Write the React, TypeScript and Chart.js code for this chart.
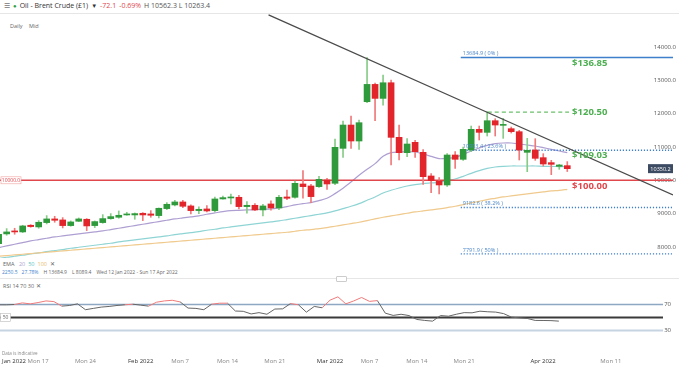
import React, { useEffect, useRef } from 'react';
import { Chart, registerables } from 'chart.js';
Chart.register(...registerables);

// ---------- DATA ----------
const OPEN = [8100, 8390, 8470, 8450, 8650, 8600, 8730, 8840, 8810, 8640, 8770, 8830, 8640, 8730, 8850, 8890, 8960, 8960, 9010, 8990,
  8940, 9150, 9260, 9350, 9230, 9090, 9140, 9090, 9440, 9470, 9490, 9210, 9250, 9110, 9290, 9170, 9500, 9490, 9890, 9830,
  9810, 10010, 9910, 10960, 11660, 11180, 12360, 12880, 12460, 12930, 11290, 10830, 11140, 10840, 10130, 9980, 9860, 10760, 10630, 10910,
  11530, 11440, 11790, 11650, 11550, 11460, 10840, 10910, 10680, 10530, 10420, 10440];
const HIGH = [8420, 8550, 8560, 8650, 8670, 8790, 8940, 8920, 8880, 8780, 8870, 8850, 8780, 8970, 9000, 9080, 9040, 9020, 9030, 9090,
  9170, 9330, 9400, 9400, 9260, 9200, 9240, 9500, 9530, 9590, 9550, 9360, 9300, 9280, 9380, 9550, 9710, 9980, 10290, 9880,
  10120, 10060, 11240, 11780, 11930, 11810, 13685, 12920, 13160, 13010, 11660, 11250, 11200, 10920, 10200, 10080, 10800, 10860, 11000, 11630,
  11630, 12060, 11850, 11860, 11600, 11500, 11260, 11250, 10800, 10600, 10480, 10562];
const LOW = [8050, 8350, 8380, 8430, 8590, 8560, 8690, 8740, 8570, 8620, 8760, 8490, 8580, 8710, 8830, 8860, 8950, 8830, 8790, 8890,
  8870, 9120, 9230, 9180, 8990, 9000, 9050, 9050, 9430, 9290, 9140, 9010, 9090, 8930, 9100, 9120, 9420, 9460, 9460, 9330,
  9790, 9730, 9870, 10690, 10960, 10930, 12330, 11790, 12260, 10460, 10610, 10710, 10690, 9880, 9630, 9590, 9820, 10360, 10600, 10860,
  11210, 11330, 11330, 11260, 11420, 10610, 10260, 10600, 10430, 10170, 10330, 10263];
const CLOSE = [8380, 8450, 8450, 8630, 8610, 8740, 8840, 8800, 8640, 8750, 8840, 8630, 8760, 8850, 8910, 8950, 8990, 9000, 8960, 8950,
  9160, 9280, 9350, 9220, 9090, 9130, 9080, 9440, 9480, 9500, 9210, 9250, 9110, 9230, 9170, 9490, 9460, 9910, 9810, 9510,
  10030, 9890, 10990, 11660, 11180, 11730, 12880, 12460, 12930, 11290, 10830, 11090, 10860, 10110, 9990, 9860, 10760, 10630, 10930, 11530,
  11440, 11790, 11660, 11680, 11460, 10910, 10900, 10660, 10490, 10480, 10460, 10350];

const EMA20 = [7980, 8030, 8080, 8130, 8180, 8220, 8260, 8300, 8330, 8360, 8390, 8420, 8450, 8480, 8520, 8560, 8600, 8640, 8680, 8720,
  8760, 8800, 8840, 8870, 8900, 8930, 8980, 9020, 9060, 9090, 9100, 9110, 9120, 9130, 9140, 9170, 9210, 9260, 9300, 9330,
  9390, 9460, 9600, 9760, 9950, 10150, 10330, 10500, 10720, 10830, 10850, 10860, 10850, 10790, 10720, 10650, 10660, 10690, 10780, 10880,
  10970, 11050, 11100, 11120, 11120, 11090, 11060, 11030, 10980, 10930, 10880, 10830];
const EMA50 = [7650, 7690, 7720, 7750, 7790, 7820, 7860, 7890, 7920, 7960, 7990, 8020, 8050, 8080, 8110, 8150, 8180, 8210, 8240, 8270,
  8300, 8330, 8370, 8400, 8430, 8460, 8500, 8530, 8570, 8600, 8630, 8660, 8690, 8720, 8750, 8780, 8820, 8860, 8900, 8940,
  8980, 9020, 9080, 9150, 9220, 9300, 9400, 9500, 9620, 9700, 9770, 9830, 9870, 9900, 9920, 9940, 9990, 10040, 10120, 10210,
  10290, 10360, 10400, 10420, 10430, 10430, 10430, 10430, 10420, 10420, 10410, 10410];
const EMA100 = [7720, 7740, 7760, 7780, 7800, 7820, 7840, 7860, 7880, 7900, 7920, 7940, 7960, 7980, 8000, 8020, 8040, 8060, 8080, 8100,
  8120, 8140, 8160, 8180, 8200, 8220, 8240, 8260, 8280, 8300, 8320, 8340, 8360, 8380, 8400, 8420, 8440, 8470, 8500, 8520,
  8550, 8580, 8620, 8660, 8700, 8740, 8790, 8840, 8890, 8930, 8970, 9010, 9050, 9080, 9110, 9140, 9180, 9220, 9270, 9320,
  9370, 9420, 9460, 9500, 9530, 9560, 9590, 9620, 9650, 9680, 9700, 9730];
const RSI14 = [69.5, 69.5, 70, 72.5, 71, 73, 75.5, 74.5, 67.5, 68.5, 71, 62, 64, 66, 67, 68.5, 69.5, 70.5, 69, 67.5,
  73.5, 75.5, 76.5, 74, 64.5, 64, 62, 70.5, 72, 72, 60, 59.5, 55.5, 57.5, 55, 63, 63.3, 71.5, 69.5, 58.2,
  67, 65, 76.7, 81.8, 71, 75.5, 80.8, 74.8, 76, 56.7, 53.2, 55, 53, 47, 45.5, 44.4, 53, 52, 55, 57.5,
  57.2, 59.7, 58.8, 58.3, 56, 50.5, 49.5, 48.5, 45.5, 45.4, 45.2, 44.4];

const Y_TICKS = [8000, 9000, 10000, 11000, 12000, 13000, 14000];
const RSI_TICKS = [70, 30];
const RSI_LEVELS = [70, 50, 30];
const X_TICK_POS = [1.95, 5, 11, 18, 23, 29, 35, 42, 47, 53, 59, 69, 77.6];
const X_TICK_LABELS = ['Jan 2022', 'Mon 17', 'Mon 24', 'Feb 2022', 'Mon 7', 'Mon 14', 'Mon 21', 'Mar 2022', 'Mon 7', 'Mon 14', 'Mon 21', 'Apr 2022', 'Mon 11'];
const FIB_LEVELS = [13684.9, 10903.4, 9182.6, 7791.9];
const FIB_LABELS = ['13684.9 ( 0% )', '10903.4 ( 23.6% )', '9182.6 ( 38.2% )', '7791.9 ( 50% )'];
const TAG_TEXT = ['$136.85', '$120.50', '$109.03', '$100.00'];
const TAG_LEVEL = [13684.9, 12050, 10903.4, 10000];
const SUPPORT = 10000;
const RESISTANCE = 12050;
const TREND_X = [33.7, 84.2];
const TREND_Y = [14965, 9559];
const LAST_PRICE = 10350.2;

// ---------- STYLE ----------
const X_MIN = 0.17, X_MAX = 84.2;
const FIB_START = 57.7;
const RES_START = 61.1, RES_END = 71.3;
const TAG_X = 71.6;
const TAG_OFFSET = [6, 0, 5, 6];
const GREEN = '#2f9a3c', RED = '#e2252b';
const GREEN_WICK = '#86cc86', RED_WICK = '#f07a7a';
const FONT = '"Open Sans", "Noto Sans", sans-serif';

const zeroPad = (s: any) => { s.paddingTop = 0; s.paddingBottom = 0; s.paddingLeft = 0; s.paddingRight = 0; };

export default function App() {
  const mainRef = useRef<HTMLCanvasElement>(null);
  const rsiRef = useRef<HTMLCanvasElement>(null);

  useEffect(() => {
    const idx = OPEN.map((_, i) => i);
    const up = idx.map(i => CLOSE[i] >= OPEN[i]);
    const hline = (a: number, b: number, v: number) => [{ x: a, y: v }, { x: b, y: v }];
    const lineDs = (data: any[], color: string, width: number, dash: number[] = [], order = 5) => ({
      type: 'line', data, borderColor: color, borderWidth: width, borderDash: dash, pointRadius: 0, tension: 0.3, order, fill: false,
    });

    const overlay = {
      id: 'overlay',
      afterDatasetsDraw(chart: any) {
        const { ctx, scales: { x, y }, chartArea } = chart;
        ctx.save();
        ctx.font = `5.5px ${FONT}`;
        ctx.fillStyle = '#4a86c8';
        ctx.textAlign = 'left';
        ctx.textBaseline = 'bottom';
        FIB_LEVELS.forEach((lv, k) => ctx.fillText(FIB_LABELS[k], x.getPixelForValue(FIB_START) + 2, y.getPixelForValue(lv) - 1));
        ctx.font = `bold 9.5px ${FONT}`;
        ctx.textBaseline = 'middle';
        TAG_TEXT.forEach((t, k) => {
          ctx.fillStyle = k === 3 ? '#e0474c' : '#4caf50';
          ctx.fillText(t, x.getPixelForValue(TAG_X), y.getPixelForValue(TAG_LEVEL[k]) + TAG_OFFSET[k]);
        });
        // support label box on the left
        const sy = y.getPixelForValue(SUPPORT);
        ctx.fillStyle = '#fff';
        ctx.fillRect(chartArea.left + 1, sy - 3.5, 20, 7);
        ctx.strokeStyle = '#f0a0a0';
        ctx.lineWidth = 0.6;
        ctx.strokeRect(chartArea.left + 1, sy - 3.5, 20, 7);
        ctx.fillStyle = '#e0474c';
        ctx.font = `5px ${FONT}`;
        ctx.textAlign = 'center';
        ctx.fillText(SUPPORT.toFixed(1), chartArea.left + 11, sy);
        // last price box on the right
        const py = y.getPixelForValue(LAST_PRICE);
        ctx.fillStyle = '#3c4a62';
        ctx.fillRect(chartArea.right - 25, py - 4.5, 25, 9);
        ctx.fillStyle = '#fff';
        ctx.font = `5.5px ${FONT}`;
        ctx.fillText(LAST_PRICE.toFixed(1), chartArea.right - 12.5, py + 0.3);
        ctx.restore();
      },
    };

    const main = new Chart(mainRef.current!, {
      type: 'bar',
      data: {
        datasets: [
          lineDs(EMA100.map((v, i) => ({ x: i, y: v })), '#f0c98c', 1.2, [], 9),
          lineDs(EMA50.map((v, i) => ({ x: i, y: v })), '#8fd4d4', 1.2, [], 9),
          lineDs(EMA20.map((v, i) => ({ x: i, y: v })), '#ae9fd2', 1.2, [], 9),
          lineDs(hline(FIB_START, X_MAX, FIB_LEVELS[0]), '#3f7fcc', 1.5, [], 8),
          ...FIB_LEVELS.slice(1).map(lv => lineDs(hline(FIB_START, X_MAX, lv), '#3f7fcc', 1.4, [1.2, 1.8], 8)),
          lineDs(hline(X_MIN, X_MAX, SUPPORT), '#e0474c', 1.6, [], 8),
          lineDs(hline(RES_START, RES_END, RESISTANCE), '#6cc06c', 1.2, [4, 3], 8),
          lineDs(TREND_X.map((xv, k) => ({ x: xv, y: TREND_Y[k] })), '#4a4a4a', 1.3, [], 0),
          {
            type: 'bar', data: idx.map(i => ({ x: i, y: [LOW[i], HIGH[i]] })),
            backgroundColor: idx.map(i => up[i] ? GREEN_WICK : RED_WICK), barThickness: 1, grouped: false, order: 2,
          },
          {
            type: 'bar', data: idx.map(i => ({ x: i, y: [OPEN[i], CLOSE[i]] })),
            backgroundColor: idx.map(i => up[i] ? GREEN : RED), barThickness: 6, grouped: false, minBarLength: 1, order: 1,
          },
        ] as any,
      },
      options: {
        animation: false, responsive: false, maintainAspectRatio: false,
        layout: { padding: 0 },
        plugins: { legend: { display: false }, tooltip: { enabled: false } },
        scales: {
          x: { type: 'linear', min: X_MIN, max: X_MAX, offset: false, display: false },
          y: {
            type: 'linear', position: 'right', min: 7667, max: 14994, bounds: 'data',
            grid: { display: false, drawTicks: false }, border: { display: false },
            ticks: { mirror: true, padding: 3, color: '#555', font: { size: 6, family: FONT }, callback: (v: any) => Number(v).toFixed(1) },
            afterBuildTicks: (s: any) => { s.ticks = Y_TICKS.map(v => ({ value: v })); },
            afterFit: zeroPad,
          },
        },
      } as any,
      plugins: [overlay],
    });

    const rsiOverlay = {
      id: 'rsiOverlay',
      afterDatasetsDraw(chart: any) {
        const { ctx, scales: { y }, chartArea } = chart;
        const my = y.getPixelForValue(50);
        ctx.save();
        ctx.fillStyle = '#fff';
        ctx.fillRect(chartArea.left + 0.5, my - 4, 10, 8);
        ctx.strokeStyle = '#bbb';
        ctx.lineWidth = 0.6;
        ctx.strokeRect(chartArea.left + 0.5, my - 4, 10, 8);
        ctx.fillStyle = '#666';
        ctx.font = `5px ${FONT}`;
        ctx.textAlign = 'center';
        ctx.textBaseline = 'middle';
        ctx.fillText('50', chartArea.left + 5.5, my);
        ctx.restore();
      },
    };

    const rsi = new Chart(rsiRef.current!, {
      type: 'line',
      data: {
        datasets: [
          lineDs(hline(X_MIN, X_MAX, RSI_LEVELS[0]), '#8ea7c2', 1.3, [], 5),
          lineDs(hline(X_MIN, X_MAX, RSI_LEVELS[1]), '#3a3a3a', 2, [], 5),
          lineDs(hline(X_MIN, X_MAX, RSI_LEVELS[2]), '#c6d4e2', 2, [], 5),
          {
            type: 'line', data: RSI14.map((v, i) => ({ x: i, y: v })), borderWidth: 1, pointRadius: 0, tension: 0, order: 0,
            borderColor: '#666',
            segment: { borderColor: (c: any) => ((c.p0.parsed.y + c.p1.parsed.y) / 2 >= 70 ? '#f07a7a' : '#666') },
          },
        ] as any,
      },
      options: {
        animation: false, responsive: false, maintainAspectRatio: false,
        layout: { padding: 0 },
        plugins: { legend: { display: false }, tooltip: { enabled: false } },
        scales: {
          x: {
            type: 'linear', min: X_MIN, max: X_MAX, offset: false, bounds: 'data',
            grid: { display: false, drawTicks: false }, border: { display: false },
            ticks: {
              autoSkip: false, maxRotation: 0, padding: 8, font: { size: 6, family: FONT },
              color: (c: any) => (/20/.test(X_TICK_LABELS[c.index] || '') ? '#333' : '#888'),
              callback: (_v: any, i: number) => X_TICK_LABELS[i],
            },
            afterBuildTicks: (s: any) => { s.ticks = X_TICK_POS.map(v => ({ value: v })); },
            afterFit: (s: any) => { s.height = 16; zeroPad(s); },
          },
          y: {
            type: 'linear', position: 'right', min: 0, max: 100, bounds: 'data',
            grid: { display: false, drawTicks: false }, border: { display: false },
            ticks: { mirror: true, padding: 8, color: '#555', font: { size: 6, family: FONT } },
            afterBuildTicks: (s: any) => { s.ticks = RSI_TICKS.map(v => ({ value: v })); },
            afterFit: zeroPad,
          },
        },
      } as any,
      plugins: [rsiOverlay],
    });

    return () => { main.destroy(); rsi.destroy(); };
  }, []);

  const txt = (extra: any) => ({ position: 'absolute', whiteSpace: 'nowrap', fontFamily: FONT, lineHeight: 1, ...extra });

  return (
    <div style={{ position: 'fixed', left: 0, top: 0, width: 679, height: 366, background: '#fff', overflow: 'hidden' }}>
      <div style={txt({ left: 4, top: 2, fontSize: 7, color: '#444', display: 'flex', gap: 3, alignItems: 'center' })}>
        <span style={{ color: '#777' }}>☰</span>
        <span style={{ color: '#2ea043', fontSize: 6 }}>●</span>
        <span style={{ color: '#333' }}>Oil - Brent Crude (£1)</span>
        <span style={{ color: '#333', fontSize: 6 }}>▼</span>
        <span style={{ color: '#e0474c' }}>-72.1</span>
        <span style={{ color: '#e0474c' }}>-0.69%</span>
        <span style={{ color: '#555' }}>H 10562.3 L 10263.4</span>
      </div>
      <div style={{ position: 'absolute', left: 0, top: 13, width: 679, height: 1, background: '#e6e6e6' }} />
      <div style={txt({ left: 10, top: 24, fontSize: 5.5, color: '#666' })}>Daily</div>
      <div style={txt({ left: 29, top: 24, fontSize: 5.5, color: '#666' })}>Mid</div>
      <canvas ref={mainRef} width={679} height={244} style={{ position: 'absolute', left: 0, top: 14, width: 679, height: 244 }} />
      <div style={txt({ left: 3, top: 262, fontSize: 5.5, color: '#666' })}>
        EMA <span style={{ color: '#ae9fd2', marginLeft: 3 }}>20</span>
        <span style={{ color: '#5cc4c4', marginLeft: 3 }}>50</span>
        <span style={{ color: '#e8b86a', marginLeft: 3 }}>100</span>
        <span style={{ marginLeft: 3 }}>✕</span>
      </div>
      <div style={txt({ left: 2, top: 270, fontSize: 5, color: '#666' })}>
        <span style={{ color: '#3f7fcc' }}>2250.5</span>
        <span style={{ color: '#3f7fcc', marginLeft: 4 }}>27.78%</span>
        <span style={{ marginLeft: 5 }}>H 13684.9</span>
        <span style={{ marginLeft: 5 }}>L 8089.4</span>
        <span style={{ marginLeft: 5 }}>Wed 12 Jan 2022 - Sun 17 Apr 2022</span>
      </div>
      <div style={{ position: 'absolute', left: 0, top: 278, width: 679, height: 1, background: '#e6e6e6' }} />
      <div style={{ position: 'absolute', left: 336, top: 276, width: 9, height: 4, background: '#fff', border: '0.5px solid #ccc', borderRadius: 1 }} />
      <div style={txt({ left: 3, top: 284, fontSize: 5.5, color: '#666' })}>RSI 14 70 30 ✕</div>
      <canvas ref={rsiRef} width={679} height={81} style={{ position: 'absolute', left: 0, top: 285, width: 679, height: 81 }} />
      <div style={txt({ left: 2, top: 351, fontSize: 4.5, color: '#888' })}>Data is indicative</div>
    </div>
  );
}
